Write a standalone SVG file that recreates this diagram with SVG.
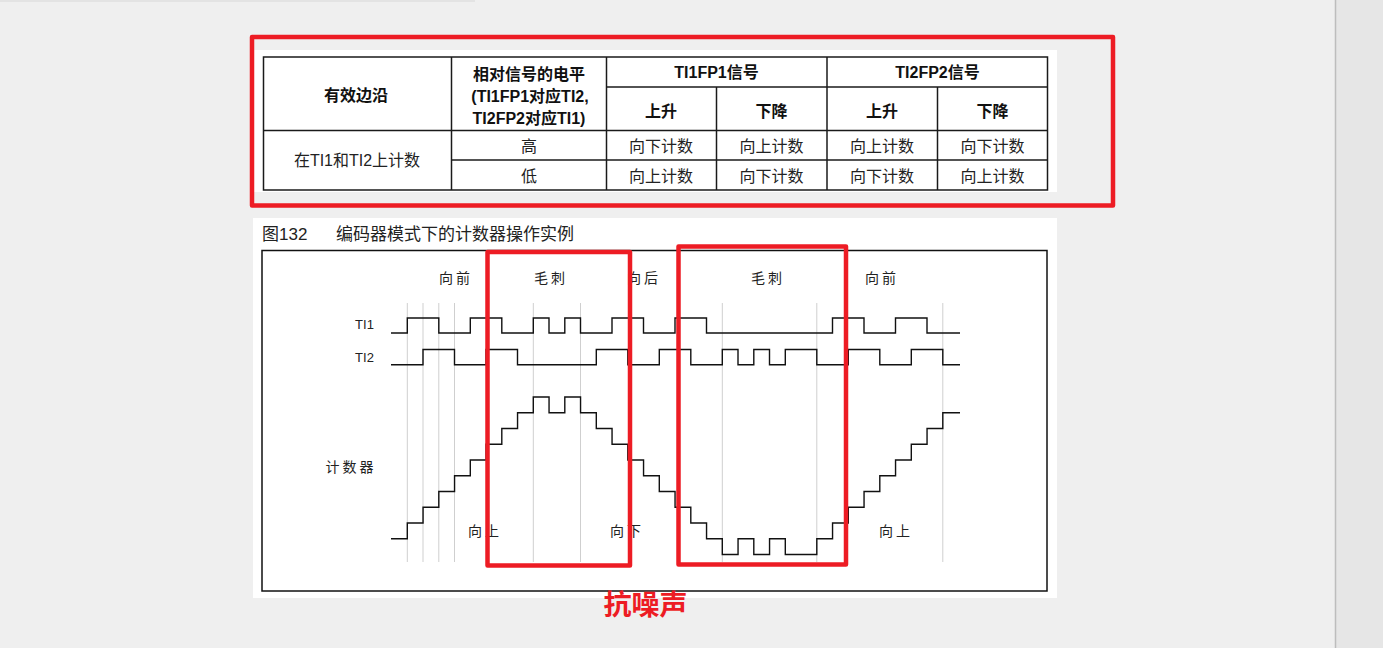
<svg xmlns="http://www.w3.org/2000/svg" width="1383" height="648" viewBox="0 0 1383 648">
<style>
.bg{fill:#efefef}
.panel{fill:#ffffff}
.tl{stroke:#1a1a1a;stroke-width:1.5;fill:none}
.hd{font-family:"Liberation Sans","Noto Sans CJK SC",sans-serif;font-weight:bold;font-size:16px;fill:#111;text-anchor:middle}
.bd{font-family:"Liberation Serif","Noto Sans CJK SC",serif;font-size:16px;fill:#222;text-anchor:middle}
.bs{font-family:"Liberation Sans","Noto Sans CJK SC",sans-serif;font-size:16px;fill:#222;text-anchor:middle}
.wl{font-family:"Liberation Sans","Noto Sans CJK SC",sans-serif;font-size:14px;fill:#222;text-anchor:middle;letter-spacing:3px}
.sig{font-family:"Liberation Sans","Noto Sans CJK SC",sans-serif;font-size:13px;fill:#222;text-anchor:middle}
.wave{stroke:#111;stroke-width:1.4;fill:none}
.grid{stroke:#cfcfcf;stroke-width:1}
.red{stroke:#ed1c24;stroke-width:4.5;fill:none;stroke-linejoin:round}
</style>
<rect class="bg" x="0" y="0" width="1383" height="648"/>
<rect x="0" y="0" width="475" height="2" fill="#e3e3e3"/>
<rect x="1336" y="0" width="47" height="648" fill="#e6e6e6"/>
<line x1="1335.5" y1="0" x2="1335.5" y2="648" stroke="#bdbdbd" stroke-width="1.5"/>

<g id="table">
<rect class="panel" x="253" y="50" width="804" height="142"/>
<rect class="tl" x="263.5" y="57" width="784" height="133"/>
<line class="tl" x1="451.5" y1="57" x2="451.5" y2="190"/>
<line class="tl" x1="606.5" y1="57" x2="606.5" y2="190"/>
<line class="tl" x1="827" y1="57" x2="827" y2="190"/>
<line class="tl" x1="716.5" y1="87" x2="716.5" y2="190"/>
<line class="tl" x1="937.5" y1="87" x2="937.5" y2="190"/>
<line class="tl" x1="606.5" y1="87" x2="1047.5" y2="87"/>
<line class="tl" x1="263.5" y1="130.5" x2="1047.5" y2="130.5"/>
<line class="tl" x1="451.5" y1="160" x2="1047.5" y2="160"/>
<text class="hd" x="356" y="101">有效边沿</text>
<text class="hd" x="529" y="79.5">相对信号的电平</text>
<text class="hd" x="530" y="102">(TI1FP1对应TI2,</text>
<text class="hd" x="529" y="124">TI2FP2对应TI1)</text>
<text class="hd" x="716.5" y="77.5">TI1FP1信号</text>
<text class="hd" x="937.5" y="77.5">TI2FP2信号</text>
<text class="hd" x="661" y="117">上升</text>
<text class="hd" x="771.5" y="117">下降</text>
<text class="hd" x="882" y="117">上升</text>
<text class="hd" x="992.5" y="117">下降</text>
<text class="bs" x="357" y="166">在TI1和TI2上计数</text>
<text class="bd" x="529" y="152">高</text>
<text class="bd" x="529" y="181.5">低</text>
<text class="bd" x="661" y="152">向下计数</text>
<text class="bd" x="771.5" y="152">向上计数</text>
<text class="bd" x="882" y="152">向上计数</text>
<text class="bd" x="992.5" y="152">向下计数</text>
<text class="bd" x="661" y="181.5">向上计数</text>
<text class="bd" x="771.5" y="181.5">向下计数</text>
<text class="bd" x="882" y="181.5">向下计数</text>
<text class="bd" x="992.5" y="181.5">向上计数</text>
</g>

<g id="figure">
<rect class="panel" x="253" y="218" width="804" height="380"/>
<text x="262" y="240" font-family="Liberation Sans,Noto Sans CJK SC,sans-serif" font-size="17" fill="#222">图132</text>
<text x="336" y="240" font-family="Liberation Serif,Noto Sans CJK SC,serif" font-size="17" fill="#222">编码器模式下的计数器操作实例</text>
<rect x="262" y="250.5" width="785" height="340.5" fill="none" stroke="#111" stroke-width="1.5"/>
</g>

<g id="gridlines">
<line class="grid" x1="407.3" y1="303" x2="407.3" y2="562"/>
<line class="grid" x1="423" y1="303" x2="423" y2="562"/>
<line class="grid" x1="438.8" y1="303" x2="438.8" y2="562"/>
<line class="grid" x1="454.5" y1="303" x2="454.5" y2="562"/>
<line class="grid" x1="533.3" y1="303" x2="533.3" y2="562"/>
<line class="grid" x1="580.5" y1="303" x2="580.5" y2="562"/>
<line class="grid" x1="722.3" y1="303" x2="722.3" y2="562"/>
<line class="grid" x1="816.8" y1="303" x2="816.8" y2="562"/>
<line class="grid" x1="942.8" y1="303" x2="942.8" y2="562"/>
</g>

<g id="labels">
<text class="wl" x="456" y="283">向前</text>
<text class="wl" x="551" y="283">毛刺</text>
<text class="wl" x="644" y="283">向后</text>
<text class="wl" x="768" y="283">毛刺</text>
<text class="wl" x="882" y="283">向前</text>
<text class="sig" x="364.5" y="329">TI1</text>
<text class="sig" x="364.5" y="361.5">TI2</text>
<text class="wl" x="351" y="472">计数器</text>
<text class="wl" x="485" y="536">向上</text>
<text class="wl" x="627" y="536">向下</text>
<text class="wl" x="896" y="536">向上</text>
</g>

<g id="waves">
<path id="ti1" class="wave" d="M391,333 H407.3 V318 H438.8 V333 H470.3 V318 H501.8 V333 H533.3 V318 H549 V333 H564.8 V318 H580.5 V333 H612 V318 H643.5 V333 H675 V318 H706.5 V333 H832.5 V318 H864 V333 H895.5 V318 H927 V333 H960"/>
<path id="ti2" class="wave" d="M391,364.7 H423 V349.5 H454.5 V364.7 H486 V349.5 H517.5 V364.7 H596.3 V349.5 H627.8 V364.7 H659.3 V349.5 H690.8 V364.7 H722.3 V349.5 H738 V364.7 H753.8 V349.5 H769.5 V364.7 H785.3 V349.5 H816.8 V364.7 H848.3 V349.5 H879.8 V364.7 H911.3 V349.5 H942.8 V364.7 H960"/>
<path id="counter" class="wave" d="M391,538.7 H407.3 V522.95 H423.05 V507.2 H438.8 V491.45 H454.55 V475.7 H470.3 V459.95 H486.05 V444.2 H501.8 V428.45 H517.55 V412.7 H533.3 V396.95 H549.05 V412.7 H564.8 V396.95 H580.55 V412.7 H596.3 V428.45 H612.05 V444.2 H627.8 V459.95 H643.55 V475.7 H659.3 V491.45 H675.05 V507.2 H690.8 V522.95 H706.55 V538.7 H722.3 V554.45 H738.05 V538.7 H753.8 V554.45 H769.55 V538.7 H785.3 V554.45 H816.8 V538.7 H832.55 V522.95 H848.3 V507.2 H864.05 V491.45 H879.8 V475.7 H895.55 V459.95 H911.3 V444.2 H927.05 V428.45 H942.8 V412.7 H960"/>
</g>

<g id="highlights">
<rect class="red" x="252" y="37" width="861" height="168.5"/>
<rect class="red" x="487.5" y="252" width="142.5" height="313.5"/>
<rect class="red" x="678.5" y="246.5" width="167.5" height="318"/>
<text x="645.5" y="614.5" font-family="Liberation Sans,Noto Sans CJK SC,sans-serif" font-size="28" font-weight="bold" fill="#ed1c24" text-anchor="middle">抗噪声</text>
</g>
</svg>
